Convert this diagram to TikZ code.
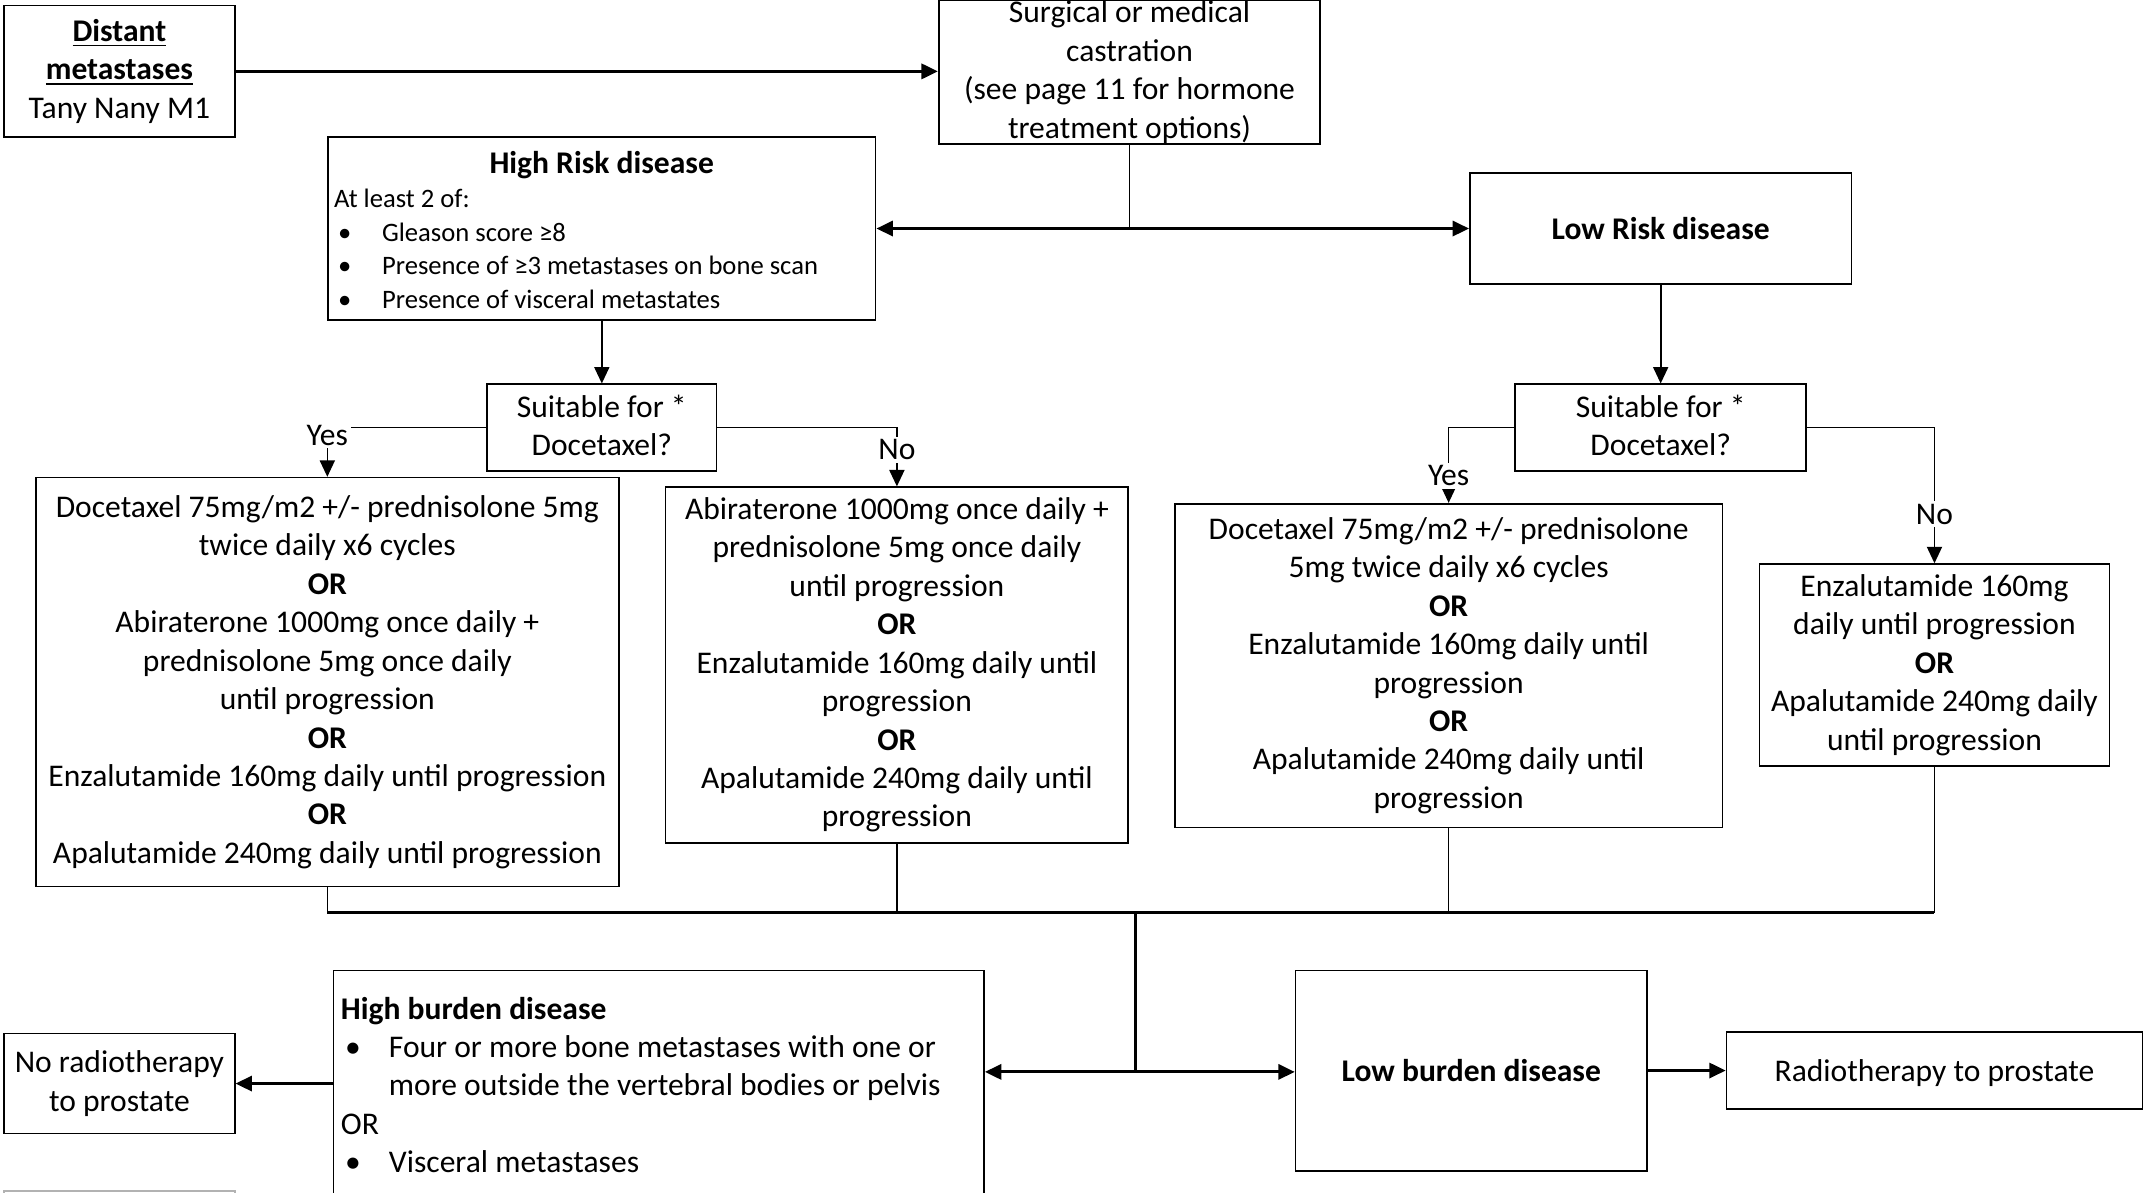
\documentclass[tikz,border=0pt]{standalone}
\usepackage{fontspec}
\setmainfont{Carlito}
\usetikzlibrary{arrows.meta}

\newcommand{\blt}{\makebox[17.5pt][l]{\hspace{1.5pt}•}}
\newcommand{\topstrut}{\rule{0pt}{14.3pt}}
\newcommand{\botstrut}{\rule[-1.7pt]{0pt}{1.7pt}}

\begin{document}
\begin{tikzpicture}[x=0.5pt, y=-0.5pt,
        font=\fontsize{11.5}{14}\selectfont,
        frame/.style={draw, line width=0.6pt, align=center, inner sep=0pt},
        box/.style={frame, execute at begin node=\topstrut, execute at end node=\botstrut},
        onebox/.style={frame, execute at begin node=\rule{0pt}{11pt}, execute at end node=\rule[-3pt]{0pt}{3pt}},
        conn/.style={line width=0.6pt},
        heavy/.style={line width=1.1pt},
        tip/.style={-{Triangle[length=6pt, width=5.5pt]}},
        tips/.style={{Triangle[length=6pt, width=5.5pt]}-{Triangle[length=6pt, width=5.5pt]}},
        lab/.style={fill=white, inner sep=1pt}]

            \useasboundingbox (0,0) rectangle (1568,869);

            \node[box, minimum width=84pt, minimum height=48pt] (dist) at (87,52)
                {\textbf{\underline{Distant}}\\\textbf{\underline{metastases}}\\Tany Nany M1};
            \node[frame, minimum width=139pt, minimum height=52.5pt] (castr) at (823,52.5)
                {Surgical or medical\\castration\\(see page 11 for hormone\\treatment options)};

            \node[frame, minimum width=199.5pt, minimum height=66.5pt] (high) at (438.5,166.5) {};
            \node[anchor=north west, inner sep=0pt] (highlist) at (243,110)
                {\parbox[t]{195pt}{\fontsize{9.7}{12.3}\selectfont\raggedright
                 \makebox[195pt]{\fontsize{11.5}{14}\selectfont\bfseries High Risk disease}\\
                 At least 2 of:\\
                 \blt Gleason score ≥8\\
                 \blt Presence of ≥3 metastases on bone scan\\
                 \blt Presence of visceral metastates}};
            \node[onebox, minimum width=139pt, minimum height=40.5pt] (lowr) at (1210,166.5)
                {\textbf{Low Risk disease}};

            \node[box, minimum width=83.5pt, minimum height=31.5pt] (suitL) at (438.5,311.5)
                {Suitable for *\\Docetaxel?};
            \node[box, minimum width=106pt, minimum height=31.5pt] (suitR) at (1210,311.5)
                {Suitable for *\\Docetaxel?};

            \node[box, minimum width=212.5pt, minimum height=149pt] (ldoc) at (238.5,497)
                {Docetaxel 75mg/m2 +/- prednisolone 5mg\\twice daily x6 cycles\\\textbf{OR}\\
                 Abiraterone 1000mg once daily +\\prednisolone 5mg once daily\\until progression\\\textbf{OR}\\
                 Enzalutamide 160mg daily until progression\\\textbf{OR}\\
                 Apalutamide 240mg daily until progression};
            \node[box, minimum width=168.5pt, minimum height=129.5pt] (labi) at (653.5,484.5)
                {Abiraterone 1000mg once daily +\\prednisolone 5mg once daily\\until progression\\\textbf{OR}\\
                 Enzalutamide 160mg daily until\\progression\\\textbf{OR}\\
                 Apalutamide 240mg daily until\\progression};
            \node[box, minimum width=199.5pt, minimum height=118pt] (rdoc) at (1055.5,485)
                {Docetaxel 75mg/m2 +/- prednisolone\\5mg twice daily x6 cycles\\\textbf{OR}\\
                 Enzalutamide 160mg daily until\\progression\\\textbf{OR}\\
                 Apalutamide 240mg daily until\\progression};
            \node[box, minimum width=127.5pt, minimum height=73.5pt] (renz) at (1409.5,484.5)
                {Enzalutamide 160mg\\daily until progression\\\textbf{OR}\\
                 Apalutamide 240mg daily\\until progression};

            \node[frame, minimum width=237pt, minimum height=91.5pt] (hburd) at (480,798.5) {};
            \node[anchor=north west, inner sep=0pt] (hburdlist) at (248,726)
                {\parbox[t]{232pt}{\raggedright
                 \textbf{High burden disease}\\
                 \blt Four or more bone metastases with one or\\
                 \hspace*{17.5pt}more outside the vertebral bodies or pelvis\\
                 OR\\
                 \blt Visceral metastases}};
            \node[box, minimum width=84pt, minimum height=36.5pt] (norad) at (87,789.5)
                {No radiotherapy\\to prostate};
            \node[onebox, minimum width=128pt, minimum height=73pt] (lburd) at (1072,780)
                {\textbf{Low burden disease}};
            \node[onebox, minimum width=151.5pt, minimum height=28pt] (radio) at (1409.5,780)
                {Radiotherapy to prostate};

            \draw[black!30, line width=0.6pt] (3,868) rectangle (171,900);

            \coordinate (rsplit) at (castr.south |- high.east);
            \coordinate (merge) at (827,665);
            \coordinate (bsplit) at (827,781);

            \draw[heavy, tip] (dist.east) -- (dist.east -| castr.west);
            \draw[conn] (castr.south) -- (rsplit);
            \draw[heavy, tips] (high.east) -- (lowr.west);
            \draw[conn, tip] (high.south) -- (suitL.north);
            \draw[conn, tip] (lowr.south) -- (suitR.north);

            \draw[conn, tip] (suitL.west) -| node[lab, pos=0.58] {Yes} (ldoc.north);
            \draw[conn, tip] (suitL.east) -| node[lab, pos=0.69] {No} (labi.north);
            \draw[conn, tip] (suitR.west) -| node[lab, pos=0.82] {Yes} (rdoc.north);
            \draw[conn, tip] (suitR.east) -| node[lab, pos=0.82] {No} (renz.north);

            \draw[conn] (ldoc.south) -- (ldoc.south |- merge);
            \draw[conn] (labi.south) -- (labi.south |- merge);
            \draw[conn] (rdoc.south) -- (rdoc.south |- merge);
            \draw[conn] (renz.south) -- (renz.south |- merge);
            \draw[heavy] (ldoc.south |- merge) -- (renz.south |- merge);
            \draw[heavy] (merge) -- (bsplit);
            \draw[heavy, tips] (bsplit -| hburd.east) -- (bsplit -| lburd.west);
            \draw[heavy, tip] (hburd.west |- norad.east) -- (norad.east);
            \draw[heavy, tip] (lburd.east) -- (radio.west);

        \end{tikzpicture}
\end{document}
